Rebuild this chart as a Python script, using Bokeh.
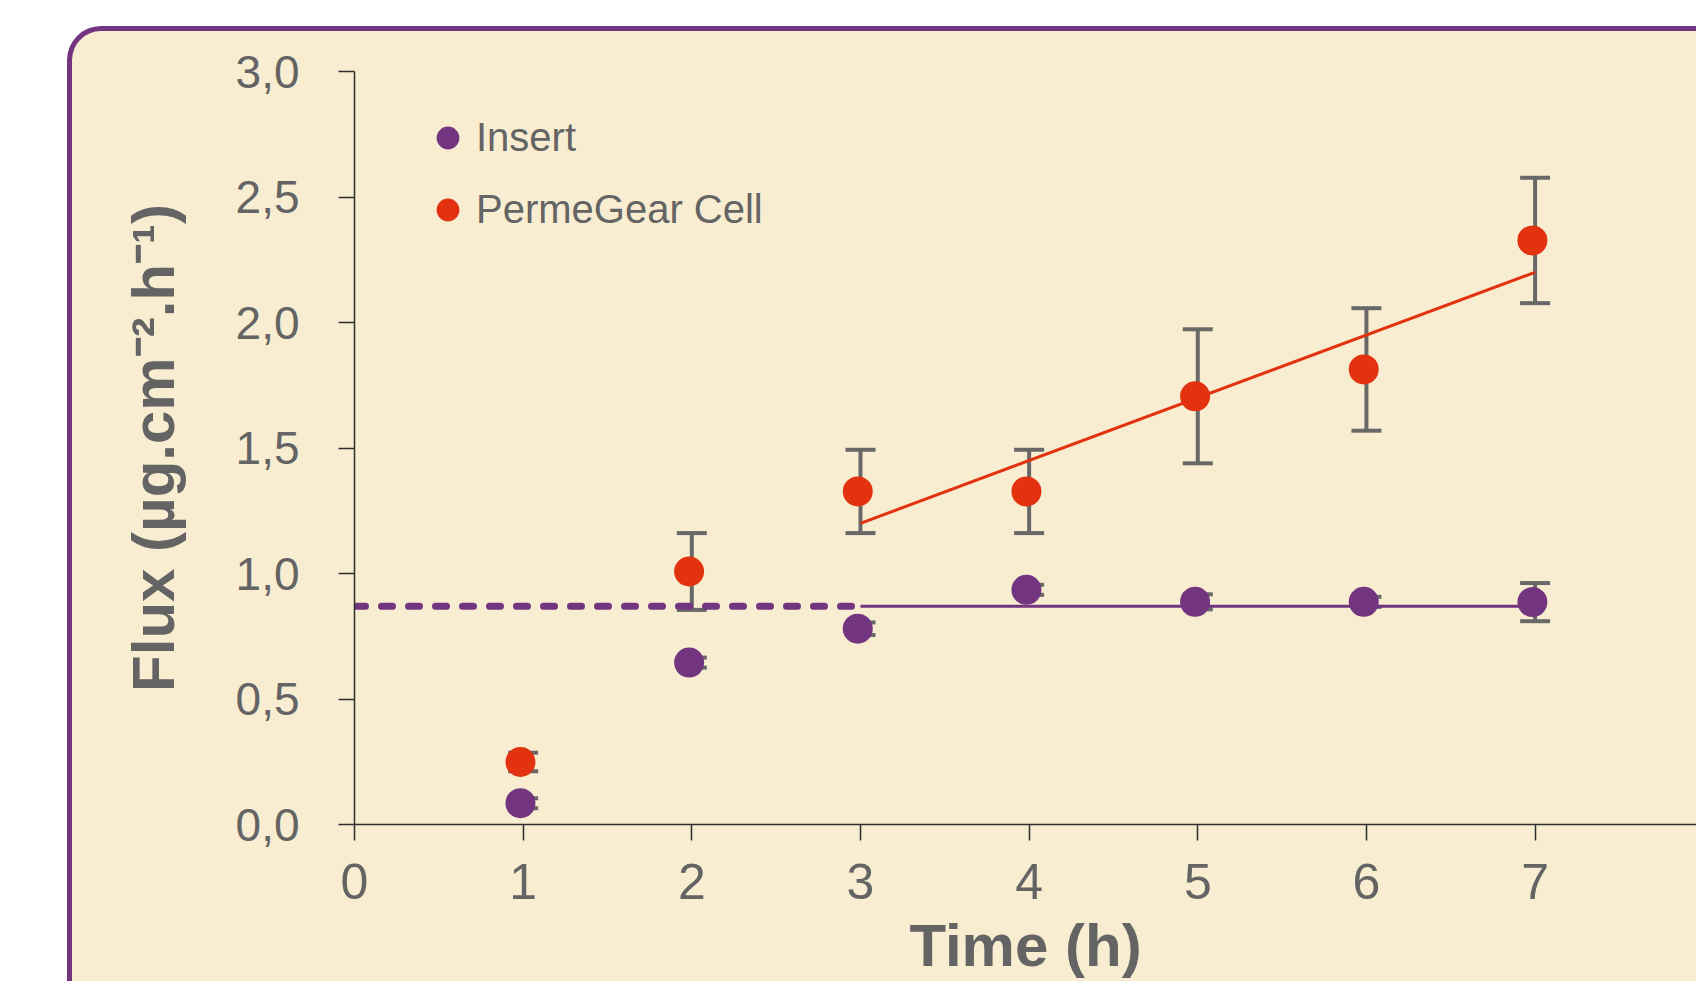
from bokeh.plotting import figure
from bokeh.models import (ColumnDataSource, Whisker, TeeHead, FixedTicker, Range1d,
                          Legend, LegendItem, InlineStyleSheet)
from bokeh.transform import dodge
from bokeh.embed import file_html
from bokeh.resources import INLINE

# ---------------- data ----------------
time_h = [1, 2, 3, 4, 5, 6, 7]
insert_flux = [0.085, 0.645, 0.78, 0.935, 0.887, 0.887, 0.886]
insert_err = [0.02, 0.02, 0.025, 0.02, 0.03, 0.02, 0.076]
permegear_flux = [0.249, 1.008, 1.327, 1.327, 1.706, 1.813, 2.327]
permegear_err = [0.037, 0.153, 0.166, 0.166, 0.267, 0.244, 0.25]

insert_fit_x = [3, 7]
insert_fit_y = [0.87, 0.87]
insert_extrap_x = [0, 3]
insert_extrap_y = [0.87, 0.87]
permegear_fit_x = [3, 7]
permegear_fit_y = [1.2, 2.2]

x_ticks = [0, 1, 2, 3, 4, 5, 6, 7, 8]
x_tick_labels = ["0", "1", "2", "3", "4", "5", "6", "7", "8"]
y_ticks = [0.0, 0.5, 1.0, 1.5, 2.0, 2.5, 3.0]
y_tick_labels = ["0,0", "0,5", "1,0", "1,5", "2,0", "2,5", "3,0"]

series_names = ["Insert", "PermeGear Cell"]

# ---------------- style ----------------
PURPLE = "#733580"
RED = "#E3320F"
BEIGE = "#F8EDD1"
GREY = "#646464"
ERR = "#686868"
AXIS = "#2e2e2e"
FONT = "Liberation Sans"
W, H = 1696, 981

src = ColumnDataSource(dict(
    time=time_h,
    ins=insert_flux,
    ins_up=[v + e for v, e in zip(insert_flux, insert_err)],
    ins_lo=[v - e for v, e in zip(insert_flux, insert_err)],
    per=permegear_flux,
    per_up=[v + e for v, e in zip(permegear_flux, permegear_err)],
    per_lo=[v - e for v, e in zip(permegear_flux, permegear_err)],
))

p = figure(width=W, height=H, output_backend="svg", toolbar_location=None,
           x_range=Range1d(0, 7.957), y_range=Range1d(0, 3.0),
           min_border_left=354, min_border_right=0, min_border_top=71,
           min_border_bottom=157)
# transparent canvas; the rounded beige panel is painted behind it by CSS
p.border_fill_color = None
p.background_fill_color = None
p.outline_line_color = None
p.grid.visible = False

panel_css = f"""
:host {{
  position: relative;
  z-index: 0;
  background-color: #ffffff;
}}
:host::before {{
  content: "";
  position: absolute;
  left: 67px;
  top: 26px;
  right: 0;
  bottom: 0;
  box-sizing: border-box;
  border-top: 5px solid {PURPLE};
  border-left: 5px solid {PURPLE};
  border-top-left-radius: 34px;
  background-color: {BEIGE};
  z-index: -1;
}}
"""
p.stylesheets = [InlineStyleSheet(css=panel_css)]

# error bars
for up, lo in (("ins_up", "ins_lo"), ("per_up", "per_lo")):
    w = Whisker(base="time", upper=up, lower=lo, source=src,
                line_color=ERR, line_width=4, level="underlay",
                upper_head=TeeHead(size=30, line_color=ERR, line_width=4),
                lower_head=TeeHead(size=30, line_color=ERR, line_width=4))
    p.add_layout(w)

# fit lines
p.line(insert_extrap_x, insert_extrap_y, line_color=PURPLE, line_width=7,
       line_dash="11 16", line_cap="round")
p.line(insert_fit_x, insert_fit_y, line_color=PURPLE, line_width=3)
p.line(permegear_fit_x, permegear_fit_y, line_color=RED, line_width=3)

# markers
r_ins = p.scatter(x=dodge("time", -0.016), y="ins", source=src, size=30,
                  fill_color=PURPLE, line_color=None)
r_per = p.scatter(x=dodge("time", -0.016), y="per", source=src, size=30,
                  fill_color=RED, line_color=None)

legend = Legend(items=[LegendItem(label=series_names[0], renderers=[r_ins]),
                       LegendItem(label=series_names[1], renderers=[r_per])],
                location=(65, 586), orientation="vertical",
                glyph_width=57, glyph_height=57, spacing=15, padding=0, margin=0,
                label_standoff=0, label_text_font_size="40px",
                label_text_color=GREY, label_text_font=FONT,
                border_line_color=None, background_fill_alpha=0)
p.add_layout(legend)

# axes
p.xaxis.ticker = FixedTicker(ticks=x_ticks)
p.xaxis.major_label_overrides = dict(zip(x_ticks, x_tick_labels))
p.yaxis.ticker = FixedTicker(ticks=y_ticks)
p.yaxis.major_label_overrides = dict(zip(y_ticks, y_tick_labels))
for ax in (p.xaxis[0], p.yaxis[0]):
    ax.axis_line_color = AXIS
    ax.axis_line_width = 1.5
    ax.major_tick_line_color = AXIS
    ax.major_tick_line_width = 1.5
    ax.major_tick_out = 16
    ax.major_tick_in = 0
    ax.minor_tick_out = 0
    ax.minor_tick_in = 0
    ax.major_label_text_color = GREY
    ax.major_label_text_font = FONT
    ax.axis_label_text_font = FONT
    ax.axis_label_text_font_style = "bold"
    ax.axis_label_text_color = GREY
    ax.axis_label_text_font_size = "60px"
p.xaxis.major_label_text_font_size = "50px"
p.yaxis.major_label_text_font_size = "46px"
p.xaxis.major_label_standoff = 23
p.yaxis.major_label_standoff = 39
p.xaxis.axis_label = "Time (h)"
p.yaxis.axis_label = "Flux (µg.cm⁻².h⁻¹)"
p.xaxis.axis_label_standoff = 10
p.xaxis.axis_label_text_line_height = 1.0
p.yaxis.axis_label_standoff = 46

open("out.html", "w").write(file_html(p, INLINE))
